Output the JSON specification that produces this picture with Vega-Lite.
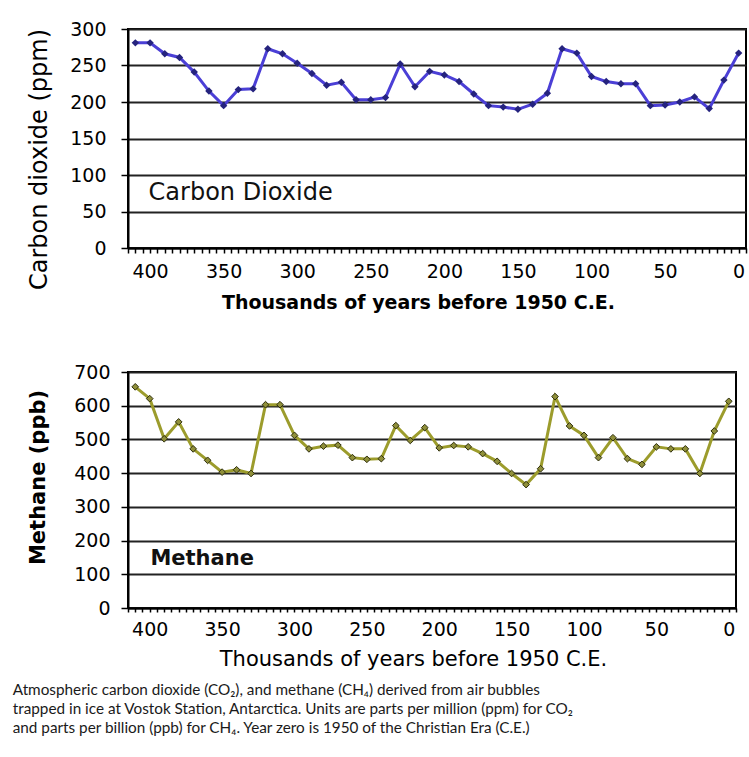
{
  "$schema": "https://vega.github.io/schema/vega-lite/v6.json",
  "background": "white",
  "padding": {"left": 12, "top": 19, "right": 1, "bottom": 2},
  "spacing": 49,
  "data": {"values": [
    {"kya": 410, "co2": 281, "ch4": 656},
    {"kya": 400, "co2": 281, "ch4": 621},
    {"kya": 390, "co2": 266, "ch4": 502},
    {"kya": 380, "co2": 261, "ch4": 552},
    {"kya": 370, "co2": 241, "ch4": 472},
    {"kya": 360, "co2": 215, "ch4": 438},
    {"kya": 350, "co2": 195, "ch4": 403},
    {"kya": 340, "co2": 217, "ch4": 410},
    {"kya": 330, "co2": 218, "ch4": 399},
    {"kya": 320, "co2": 273, "ch4": 603},
    {"kya": 310, "co2": 266, "ch4": 603},
    {"kya": 300, "co2": 253, "ch4": 512},
    {"kya": 290, "co2": 239, "ch4": 472},
    {"kya": 280, "co2": 223, "ch4": 480},
    {"kya": 270, "co2": 227, "ch4": 483},
    {"kya": 260, "co2": 203, "ch4": 446},
    {"kya": 250, "co2": 203, "ch4": 441},
    {"kya": 240, "co2": 206, "ch4": 443},
    {"kya": 230, "co2": 252, "ch4": 541},
    {"kya": 220, "co2": 221, "ch4": 497},
    {"kya": 210, "co2": 242, "ch4": 535},
    {"kya": 200, "co2": 237, "ch4": 475},
    {"kya": 190, "co2": 228, "ch4": 482},
    {"kya": 180, "co2": 211, "ch4": 478},
    {"kya": 170, "co2": 195, "ch4": 458},
    {"kya": 160, "co2": 193, "ch4": 435},
    {"kya": 150, "co2": 190, "ch4": 399},
    {"kya": 140, "co2": 197, "ch4": 366},
    {"kya": 130, "co2": 212, "ch4": 413},
    {"kya": 120, "co2": 273, "ch4": 627},
    {"kya": 110, "co2": 267, "ch4": 540},
    {"kya": 100, "co2": 235, "ch4": 512},
    {"kya": 90, "co2": 228, "ch4": 446},
    {"kya": 80, "co2": 225, "ch4": 505},
    {"kya": 70, "co2": 225, "ch4": 443},
    {"kya": 60, "co2": 195, "ch4": 426},
    {"kya": 50, "co2": 196, "ch4": 478},
    {"kya": 40, "co2": 200, "ch4": 472},
    {"kya": 30, "co2": 207, "ch4": 472},
    {"kya": 20, "co2": 191, "ch4": 399},
    {"kya": 10, "co2": 230, "ch4": 525},
    {"kya": 0, "co2": 267, "ch4": 613}
  ]},
  "title": {
    "text": [
      "Atmospheric carbon dioxide (CO₂), and methane (CH₄) derived from air bubbles",
      "trapped in ice at Vostok Station, Antarctica.  Units are parts per million (ppm) for CO₂",
      "and parts per billion (ppb) for CH₄.  Year zero is 1950 of the Christian Era (C.E.)"
    ],
    "orient": "bottom",
    "anchor": "start",
    "font": "Lato",
    "fontSize": 15.3,
    "fontWeight": "normal",
    "color": "#1a1a1a",
    "lineHeight": 19,
    "offset": 13,
    "dx": -14
  },
  "vconcat": [
    {
      "width": 618,
      "height": 219,
      "layer": [
        {
          "mark": {"type": "line", "color": "#4b3fd6", "strokeWidth": 3,
                   "point": {"shape": "diamond", "filled": true, "size": 55, "color": "#25237e", "opacity": 1}},
          "encoding": {
            "x": {
              "field": "kya", "type": "quantitative",
              "scale": {"domain": [-5, 415], "reverse": true, "nice": false, "zero": false},
              "axis": {
                "values": [415,410,405,400,395,390,385,380,375,370,365,360,355,350,345,340,335,330,325,320,315,310,305,300,295,290,285,280,275,270,265,260,255,250,245,240,235,230,225,220,215,210,205,200,195,190,185,180,175,170,165,160,155,150,145,140,135,130,125,120,115,110,105,100,95,90,85,80,75,70,65,60,55,50,45,40,35,30,25,20,15,10,5,0,-5],
                "tickSize": 5, "labelPadding": 9,
                "title": "Thousands of years before 1950 C.E.",
                "titleFontSize": 19, "titleFontWeight": "bold", "titlePadding": 12, "titleX": 290
              }
            },
            "y": {
              "field": "co2", "type": "quantitative",
              "scale": {"domain": [0, 300], "nice": false},
              "axis": {
                "values": [0, 50, 100, 150, 200, 250, 300],
                "tickSize": 7, "labelPadding": 15,
                "title": "Carbon dioxide (ppm)",
                "titleFontSize": 24, "titleFontWeight": "normal", "titlePadding": 18, "titleY": 130
              }
            }
          }
        },
        {
          "data": {"values": [{"label": "Carbon Dioxide"}]},
          "mark": {"type": "text", "align": "left", "baseline": "alphabetic", "font": "DejaVu Sans", "fontSize": 24, "color": "#111"},
          "encoding": {
            "x": {
              "datum": 401, "type": "quantitative",
              "axis": {
                "values": [415,410,405,400,395,390,385,380,375,370,365,360,355,350,345,340,335,330,325,320,315,310,305,300,295,290,285,280,275,270,265,260,255,250,245,240,235,230,225,220,215,210,205,200,195,190,185,180,175,170,165,160,155,150,145,140,135,130,125,120,115,110,105,100,95,90,85,80,75,70,65,60,55,50,45,40,35,30,25,20,15,10,5,0,-5],
                "tickSize": 5, "labelPadding": 9,
                "title": "Thousands of years before 1950 C.E.",
                "titleFontSize": 19, "titleFontWeight": "bold", "titlePadding": 12, "titleX": 290
              }
            },
            "y": {
              "datum": 66, "type": "quantitative",
              "axis": {
                "values": [0, 50, 100, 150, 200, 250, 300],
                "tickSize": 7, "labelPadding": 15,
                "title": "Carbon dioxide (ppm)",
                "titleFontSize": 24, "titleFontWeight": "normal", "titlePadding": 18, "titleY": 130
              }
            },
            "text": {"field": "label"}
          }
        }
      ]
    },
    {
      "width": 608,
      "height": 236,
      "layer": [
        {
          "mark": {"type": "line", "color": "#9c9c2c", "strokeWidth": 3,
                   "point": {"shape": "diamond", "filled": true, "size": 45, "fill": "#8f8f3a", "stroke": "#2e2e0c", "strokeWidth": 1, "opacity": 1}},
          "encoding": {
            "x": {
              "field": "kya", "type": "quantitative",
              "scale": {"domain": [-5, 415], "reverse": true, "nice": false, "zero": false},
              "axis": {
                "values": [415,410,405,400,395,390,385,380,375,370,365,360,355,350,345,340,335,330,325,320,315,310,305,300,295,290,285,280,275,270,265,260,255,250,245,240,235,230,225,220,215,210,205,200,195,190,185,180,175,170,165,160,155,150,145,140,135,130,125,120,115,110,105,100,95,90,85,80,75,70,65,60,55,50,45,40,35,30,25,20,15,10,5,0,-5],
                "tickSize": 4, "labelPadding": 8,
                "title": "Thousands of years before 1950 C.E.",
                "titleFontSize": 21, "titleFontWeight": "normal", "titlePadding": 9, "titleX": 285
              }
            },
            "y": {
              "field": "ch4", "type": "quantitative",
              "scale": {"domain": [0, 700], "nice": false},
              "axis": {
                "values": [0, 100, 200, 300, 400, 500, 600, 700],
                "tickSize": 7, "labelPadding": 11,
                "title": "Methane (ppb)",
                "titleFontSize": 21, "titleFontWeight": "bold", "titlePadding": 25, "titleY": 105
              }
            }
          }
        },
        {
          "data": {"values": [{"label": "Methane"}]},
          "mark": {"type": "text", "align": "left", "baseline": "alphabetic", "font": "DejaVu Sans", "fontSize": 21, "fontWeight": "bold", "color": "#111"},
          "encoding": {
            "x": {
              "datum": 399.5, "type": "quantitative",
              "axis": {
                "values": [415,410,405,400,395,390,385,380,375,370,365,360,355,350,345,340,335,330,325,320,315,310,305,300,295,290,285,280,275,270,265,260,255,250,245,240,235,230,225,220,215,210,205,200,195,190,185,180,175,170,165,160,155,150,145,140,135,130,125,120,115,110,105,100,95,90,85,80,75,70,65,60,55,50,45,40,35,30,25,20,15,10,5,0,-5],
                "tickSize": 4, "labelPadding": 8,
                "title": "Thousands of years before 1950 C.E.",
                "titleFontSize": 21, "titleFontWeight": "normal", "titlePadding": 9, "titleX": 285
              }
            },
            "y": {
              "datum": 128, "type": "quantitative",
              "axis": {
                "values": [0, 100, 200, 300, 400, 500, 600, 700],
                "tickSize": 7, "labelPadding": 11,
                "title": "Methane (ppb)",
                "titleFontSize": 21, "titleFontWeight": "bold", "titlePadding": 25, "titleY": 105
              }
            },
            "text": {"field": "label"}
          }
        }
      ]
    }
  ],
  "config": {
    "view": {"stroke": "black", "strokeWidth": 2},
    "axis": {
      "tickColor": "black", "tickWidth": 1.5,
      "domainColor": "black", "domainWidth": 2,
      "labelFont": "DejaVu Sans", "labelFontSize": 19, "labelColor": "black",
      "titleFont": "DejaVu Sans", "titleColor": "black",
      "labelOverlap": false, "labelFlush": false,
      "gridColor": "#222", "gridWidth": 2
    },
    "axisX": {
      "grid": false,
      "labelExpr": "datum.value % 50 === 0 ? datum.label : ''"
    },
    "axisY": {"grid": true}
  }
}
